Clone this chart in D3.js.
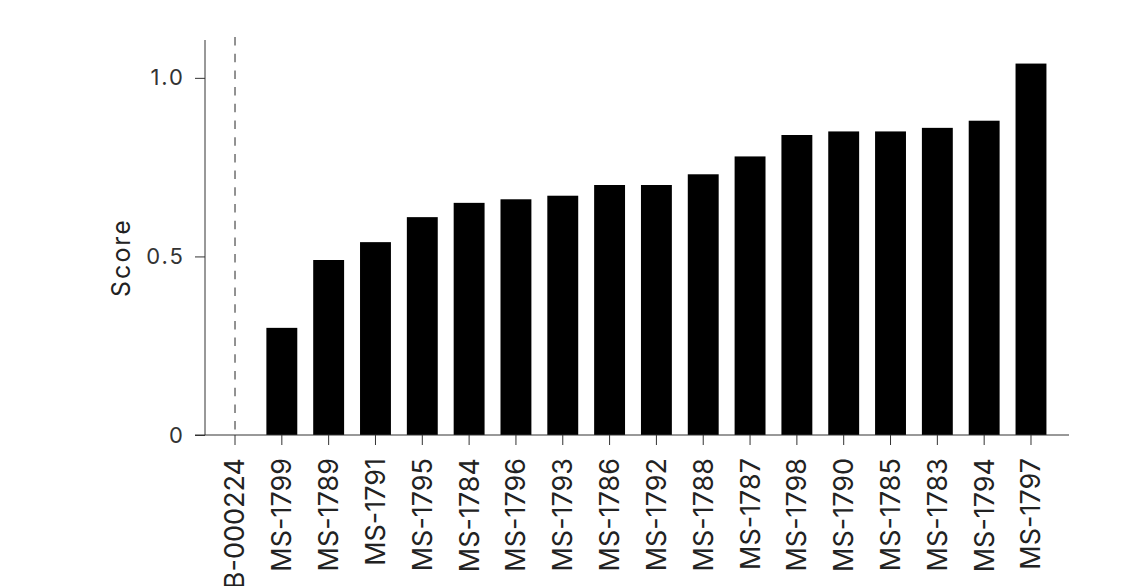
<!DOCTYPE html>
<html><head><meta charset="utf-8">
<script src="https://cdn.jsdelivr.net/npm/d3@7"></script>
<style>body{margin:0;background:#fff}svg{display:block}text{font-family:Inter,"Noto Sans",sans-serif}</style>
</head><body><svg id="c" width="1129" height="586"></svg>
<script>
const categories = ["AB-000224","MS-1799","MS-1789","MS-1791","MS-1795","MS-1784","MS-1796","MS-1793","MS-1786","MS-1792","MS-1788","MS-1787","MS-1798","MS-1790","MS-1785","MS-1783","MS-1794","MS-1797"];
const scores = [null,0.30,0.49,0.54,0.61,0.65,0.66,0.67,0.70,0.70,0.73,0.78,0.84,0.85,0.85,0.86,0.88,1.04];
const yTicks = [0,0.5,1.0];
const yLabel = "Score";
const refCategory = "AB-000224";

const svg = d3.select("#c");
const plot = {left:205,right:1069,top:40,bottom:435};
const x = d3.scaleBand().domain(categories).range([211.6,1054.4]).paddingInner(0.34).paddingOuter(0.17);
const y = d3.scaleLinear().domain([0,1.106]).range([plot.bottom,plot.top]);
const axisColor = "#333";

// bars
svg.append("g").selectAll("rect").data(categories.map((c,i)=>({c,v:scores[i]})).filter(d=>d.v!=null))
  .join("rect")
  .attr("x",d=>x(d.c)).attr("width",x.bandwidth())
  .attr("y",d=>y(d.v)).attr("height",d=>y(0)-y(d.v))
  .attr("fill","#000");

// dashed reference line
svg.append("line")
  .attr("x1",x(refCategory)+x.bandwidth()/2).attr("x2",x(refCategory)+x.bandwidth()/2)
  .attr("y1",plot.top-3).attr("y2",plot.bottom)
  .attr("stroke","#777").attr("stroke-width",1.6).attr("stroke-dasharray","8.5,8.2");

// y axis
const yAxis = d3.axisLeft(y).tickValues(yTicks).tickSize(10).tickPadding(10)
  .tickFormat(d=>d===0?"0":d3.format(".1f")(d));
const gy = svg.append("g").attr("transform",`translate(${plot.left},0)`).call(yAxis);
gy.select(".domain").remove();
gy.append("line").attr("x1",0).attr("x2",0).attr("y1",plot.top).attr("y2",plot.bottom).attr("stroke",axisColor);
gy.selectAll(".tick line").attr("stroke",axisColor);
gy.selectAll(".tick text").attr("fill","#333").style("font-size","22px").style("letter-spacing","2px")
  .style("font-family","Inter,'Noto Sans',sans-serif");

// x axis
const xAxis = d3.axisBottom(x).tickSize(10).tickPadding(12);
const gx = svg.append("g").attr("transform",`translate(0,${plot.bottom})`).call(xAxis);
gx.select(".domain").remove();
gx.append("line").attr("x1",plot.left-10).attr("x2",plot.right).attr("y1",0).attr("y2",0).attr("stroke",axisColor);
gx.selectAll(".tick line").attr("stroke",axisColor);
gx.selectAll(".tick text").attr("fill","#222").style("font-size","27px").style("font-family","Inter,'Noto Sans',sans-serif")
  .attr("text-anchor","end").attr("dy","0.35em").attr("x",-23).attr("y",0)
  .attr("transform","rotate(-90)");

// y label
svg.append("text").attr("transform",`translate(130,${y(0.497)}) rotate(-90)`)
  .attr("text-anchor","middle").attr("fill","#222").style("font-size","25px").style("letter-spacing","2px").text(yLabel);
</script></body></html>
